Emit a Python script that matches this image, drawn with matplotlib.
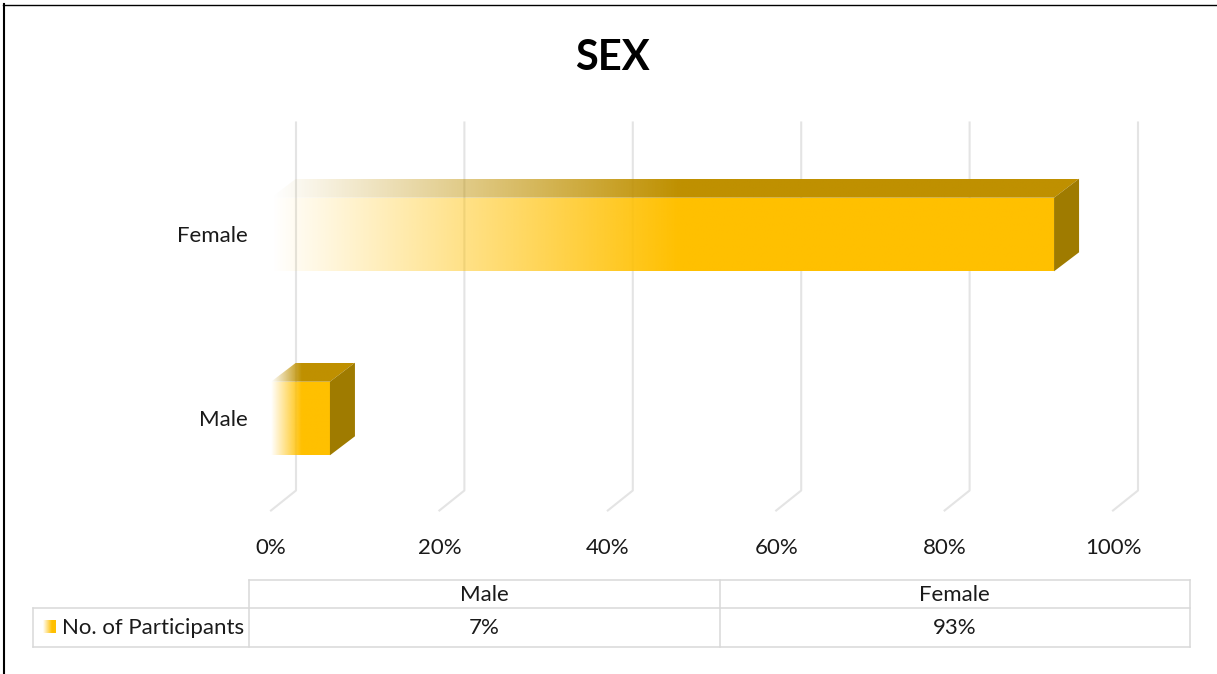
import numpy as np
import matplotlib.pyplot as plt
from matplotlib.patches import Polygon
from matplotlib.colors import to_rgb

# data
categories = ['Male', 'Female']
percent = [7, 93]
series_name = 'No. of Participants'
ticks = [0, 20, 40, 60, 80, 100]
title = 'SEX'

GOLD = '#FFC000'
TOP = '#BF9000'
SIDE = '#9F7B00'
GRID = '#E4E4E4'
TBL = '#D9D9D9'
TXT = '#1a1a1a'

W, H = 1217, 674
plt.rcParams['font.family'] = ['Lato', 'DejaVu Sans']
fig = plt.figure(figsize=(W / 100, H / 100), dpi=100)


def fx(px):
    return px / W


def fy(py):
    return 1 - py / H


# ------------------------------------------------------------
# overlay in pixel units: frame, title, data table
# ------------------------------------------------------------
over = fig.add_axes([0, 0, 1, 1])
over.set_xlim(0, W)
over.set_ylim(H, 0)
over.axis('off')

over.plot([3, W], [5, 5], color='black', lw=1.0)
over.plot([4, 4], [4, H], color='black', lw=1.5)
over.text(612, 58, title, ha='center', va='center', fontsize=30,
          fontweight='bold', color='black')


def gradient(axis, verts, x0, x1, y0, y1, color, fade_len, z=2):
    patch = Polygon(verts, closed=True, facecolor='none', edgecolor='none')
    axis.add_patch(patch)
    xs = np.linspace(x0, x1, 400)
    img = np.zeros((1, len(xs), 4))
    img[..., :3] = to_rgb(color)
    img[0, :, 3] = np.clip((xs - x0) / fade_len, 0, 1)
    im = axis.imshow(img, extent=(x0, x1, y0, y1), aspect='auto',
                     interpolation='bilinear', origin='lower', zorder=z)
    im.set_clip_path(patch)


# table
t_left, t_split, t_right = 33, 249, 1190
r_top, r_mid, r_bot = 580, 608, 647
col_w = (t_right - t_split) / len(categories)
tl = dict(color=TBL, lw=1.1)
over.plot([t_split, t_right], [r_top, r_top], **tl)
over.plot([t_left, t_right], [r_mid, r_mid], **tl)
over.plot([t_left, t_right], [r_bot, r_bot], **tl)
over.plot([t_left, t_left], [r_mid, r_bot], **tl)
for k in range(len(categories) + 1):
    xk = t_split + k * col_w
    over.plot([xk, xk], [r_top, r_bot], **tl)
for k, (cat, val) in enumerate(zip(categories, percent)):
    cx = t_split + (k + 0.5) * col_w
    over.text(cx, (r_top + r_mid) / 2 + 1, cat, ha='center', va='center',
              fontsize=16, color=TXT)
    over.text(cx, (r_mid + r_bot) / 2 + 1, f'{val}%', ha='center',
              va='center', fontsize=16, color=TXT)
gradient(over, [(43, 620), (56, 620), (56, 633), (43, 633)], 43, 56, 633, 620,
         GOLD, 9)
over.text(62, (r_mid + r_bot) / 2 + 1, series_name, ha='left', va='center',
          fontsize=16, color=TXT)
over.set_xlim(0, W)
over.set_ylim(H, 0)

# ------------------------------------------------------------
# 3-D style bar chart
# ------------------------------------------------------------
ax = fig.add_axes([fx(271), fy(510.5), fx(1113) - fx(271), fy(142.5) - fy(510.5)])
ax.set_facecolor('none')

dx = 25 / 842 * 100
dy = 19 / 184
dyw = 20 / 184
half = 0.2

for t in ticks:
    ax.plot([t, t + dx, t + dx], [-0.5, -0.5 + dyw, 1.5 + dyw], color=GRID,
            lw=1.5, zorder=1, clip_on=False)

for i, val in enumerate(percent):
    y0, y1 = i - half, i + half
    fade = 0.52 * val
    gradient(ax, [(0, y0), (val, y0), (val, y1), (0, y1)], 0, val, y0, y1,
             GOLD, fade)
    gradient(ax, [(0, y1), (val, y1), (val + dx, y1 + dy), (dx, y1 + dy)],
             0, val + dx, y1, y1 + dy, TOP, fade)
    ax.add_patch(Polygon([(val, y0), (val + dx, y0 + dy), (val + dx, y1 + dy),
                          (val, y1)], closed=True, facecolor=SIDE,
                         edgecolor='none', zorder=2))

ax.set_xlim(0, 100)
ax.set_ylim(-0.5, 1.5)
ax.set_xticks(ticks, [f'{t}%' for t in ticks])
ax.set_yticks(range(len(categories)), categories)
ax.tick_params(axis='both', length=0, labelsize=16, labelcolor=TXT)
ax.tick_params(axis='x', pad=20)
ax.tick_params(axis='y', pad=17)
for lab in ax.get_yticklabels():
    lab.set_va('center_baseline')
for s in ax.spines.values():
    s.set_visible(False)

fig.savefig('out.png', dpi=100)
